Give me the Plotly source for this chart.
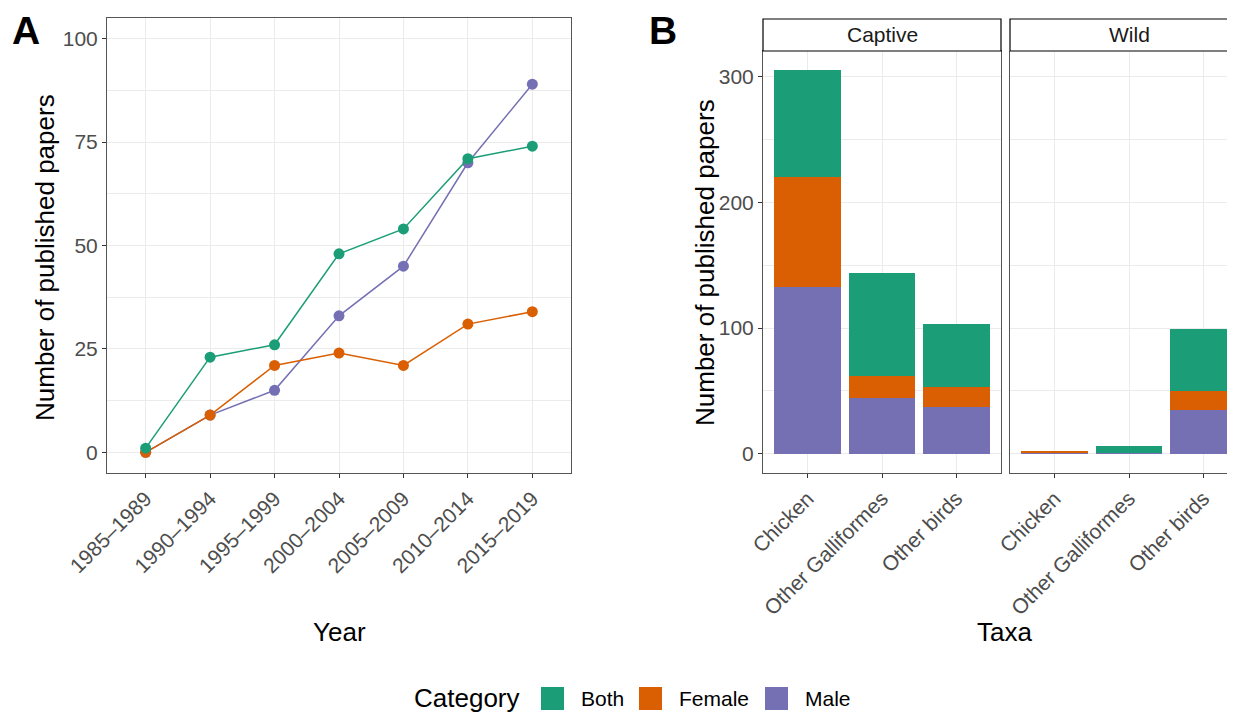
import plotly.graph_objects as go

# ---------------- data ----------------
years = ["1985–1989", "1990–1994", "1995–1999", "2000–2004",
         "2005–2009", "2010–2014", "2015–2019"]
both_a = [1, 23, 26, 48, 54, 71, 74]
female_a = [0, 9, 21, 24, 21, 31, 34]
male_a = [0, 9, 15, 33, 45, 70, 89]

taxa = ["Chicken", "Other Galliformes", "Other birds"]
captive_male = [133, 44, 37]
captive_female = [87, 18, 16]
captive_both = [85, 82, 50]
wild_male = [1, 1, 35]
wild_female = [1, 0, 15]
wild_both = [0, 5, 49]

categories = ["Both", "Female", "Male"]
colors = {"Both": "#1B9E77", "Female": "#D95F02", "Male": "#7570B3"}

# ---------------- geometry helpers ----------------
W, H = 1235, 713
OFF = 8  # default page body margin
def xp(px):
    return (px - OFF) / W
def yp(py):
    return 1 - (py - OFF) / H

FONT = "Liberation Sans, Arial, Helvetica, sans-serif"
GRID = "#EBEBEB"
BORDER = "#555555"
TICKC = "#333333"
TXT = "#4D4D4D"

fig = go.Figure()

# ---------------- panel A ----------------
series_a = {"Male": male_a, "Female": female_a, "Both": both_a}
for name in ["Male", "Female", "Both"]:
    fig.add_trace(go.Scatter(
        x=years, y=series_a[name], mode="lines+markers",
        line=dict(color=colors[name], width=1.5),
        marker=dict(color=colors[name], size=11),
        xaxis="x", yaxis="y", showlegend=False, name=name))

# ---------------- panel B ----------------
captive = {"Male": captive_male, "Female": captive_female, "Both": captive_both}
wild = {"Male": wild_male, "Female": wild_female, "Both": wild_both}
for name in ["Male", "Female", "Both"]:
    fig.add_trace(go.Bar(x=taxa, y=captive[name], width=0.9,
                         marker=dict(color=colors[name], line=dict(width=0)),
                         xaxis="x2", yaxis="y2", showlegend=False, name=name))
    fig.add_trace(go.Bar(x=taxa, y=wild[name], width=0.9,
                         marker=dict(color=colors[name], line=dict(width=0)),
                         xaxis="x3", yaxis="y3", showlegend=False, name=name))

tickfont = dict(family=FONT, size=21, color=TXT)

common_x = dict(type="category", showgrid=True, gridcolor=GRID, gridwidth=1,
                ticks="outside", ticklen=4, tickcolor=TICKC, tickwidth=1,
                tickangle=-45, tickfont=tickfont, zeroline=False, automargin=False,
                showline=True, linecolor=BORDER, linewidth=1)
common_y = dict(showgrid=True, gridcolor=GRID, gridwidth=1,
                ticks="outside", ticklen=4, tickcolor=TICKC, tickwidth=1,
                tickfont=tickfont, zeroline=False, automargin=False,
                showline=True, linecolor=BORDER, linewidth=1)

cat_px = (1001 - 763) / 3.2  # pixels per category step in panel B

fig.update_layout(
    width=W, height=H,
    margin=dict(l=0, r=0, t=0, b=0, pad=0, autoexpand=False),
    paper_bgcolor="white", plot_bgcolor="white",
    barmode="stack", showlegend=False,
    font=dict(family=FONT, color="black"),
    xaxis=dict(common_x, domain=[xp(107), xp(571)], range=[-0.6, 6.6],
               mirror=True, anchor="y"),
    yaxis=dict(common_y, domain=[yp(473), yp(18)], range=[-5, 105],
               tick0=0, dtick=25, mirror=True, anchor="x",
               minor=dict(dtick=12.5, tick0=0, showgrid=True, gridcolor=GRID, ticks="")),
    xaxis2=dict(common_x, domain=[xp(763), xp(1001)], range=[-0.6, 2.6],
                mirror=True, anchor="y2"),
    yaxis2=dict(common_y, domain=[yp(473), yp(51)], range=[-15.25, 320.25],
                tick0=0, dtick=100, mirror=True, anchor="x2",
                minor=dict(dtick=50, tick0=0, showgrid=True, gridcolor=GRID, ticks="")),
    xaxis3=dict(common_x, domain=[xp(1010), 1.0],
                range=[-0.6, -0.6 + (W + OFF - 1010) / cat_px],
                mirror=False, anchor="y3"),
    yaxis3=dict(common_y, domain=[yp(473), yp(51)], range=[-15.25, 320.25],
                tick0=0, dtick=100, mirror=False, anchor="x3",
                showticklabels=False, ticks="",
                minor=dict(dtick=50, tick0=0, showgrid=True, gridcolor=GRID, ticks="")),
)

shapes = []
annotations = []

# strips
for (x0, x1, cx, label) in [(763, 1001, 882, "Captive"), (1010, 1260, 1129, "Wild")]:
    shapes.append(dict(type="rect", xref="paper", yref="paper",
                       x0=xp(x0), x1=xp(x1), y0=yp(51), y1=yp(19),
                       line=dict(color="black", width=1.2), fillcolor="white",
                       layer="above"))
    annotations.append(dict(xref="paper", yref="paper", x=xp(cx), y=yp(35),
                            text=label, showarrow=False,
                            font=dict(family=FONT, size=21, color="#1A1A1A"),
                            xanchor="center", yanchor="middle"))

# panel labels
annotations.append(dict(xref="paper", yref="paper", x=xp(10), y=yp(31), text="<b>A</b>",
                        showarrow=False, xanchor="left", yanchor="middle",
                        font=dict(family=FONT, size=39, color="black")))
annotations.append(dict(xref="paper", yref="paper", x=xp(647), y=yp(31), text="<b>B</b>",
                        showarrow=False, xanchor="left", yanchor="middle",
                        font=dict(family=FONT, size=39, color="black")))

# axis titles
title_font = dict(family=FONT, size=26, color="black")
annotations.append(dict(xref="paper", yref="paper", x=xp(45), y=yp(258),
                        text="Number of published papers", textangle=-90,
                        showarrow=False, xanchor="center", yanchor="middle", font=title_font))
annotations.append(dict(xref="paper", yref="paper", x=xp(705), y=yp(262),
                        text="Number of published papers", textangle=-90,
                        showarrow=False, xanchor="center", yanchor="middle", font=title_font))
annotations.append(dict(xref="paper", yref="paper", x=xp(339), y=yp(632), text="Year",
                        showarrow=False, xanchor="center", yanchor="middle", font=title_font))
annotations.append(dict(xref="paper", yref="paper", x=xp(1004), y=yp(632), text="Taxa",
                        showarrow=False, xanchor="center", yanchor="middle", font=title_font))

# legend (drawn manually to match ggplot key size)
annotations.append(dict(xref="paper", yref="paper", x=xp(412), y=yp(698), text="Category",
                        showarrow=False, xanchor="left", yanchor="middle",
                        font=dict(family=FONT, size=26, color="black")))
legend_items = [("Both", 541, 579), ("Female", 639, 677), ("Male", 765, 803)]
for name, sx, tx in legend_items:
    shapes.append(dict(type="rect", xref="paper", yref="paper",
                       x0=xp(sx), x1=xp(sx + 23), y0=yp(710), y1=yp(687),
                       line=dict(width=0), fillcolor=colors[name]))
    annotations.append(dict(xref="paper", yref="paper", x=xp(tx), y=yp(698), text=name,
                            showarrow=False, xanchor="left", yanchor="middle",
                            font=dict(family=FONT, size=21, color="black")))

fig.update_layout(shapes=shapes, annotations=annotations)

fig.write_html("out.html")
